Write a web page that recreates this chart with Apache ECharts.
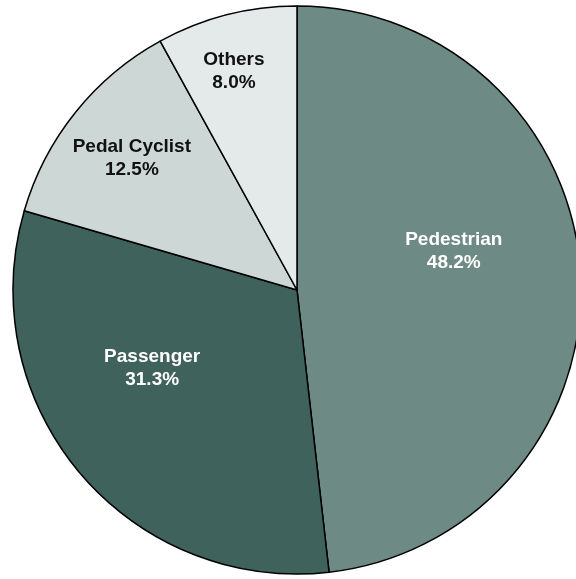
<!DOCTYPE html>
<html>
<head>
<meta charset="utf-8">
<script src="https://cdn.jsdelivr.net/npm/echarts@6/dist/echarts.min.js"></script>
<style>
  html, body { margin: 0; padding: 0; background: #fff; }
  #chart { width: 576px; height: 579px; }
</style>
</head>
<body>
<div id="chart"></div>
<script>
var categories = ['Pedestrian', 'Passenger', 'Pedal Cyclist', 'Others'];
var shares = [48.2, 31.3, 12.5, 8.0];

// look of each slice
var sliceColors = ['#6e8a84', '#3f625d', '#cdd7d5', '#e4e9e9'];
var textColors = ['#ffffff', '#ffffff', '#111111', '#111111'];
var labelOffsets = [[12, -31], [-34, -15], [-52, -41], [-27, -78]];

var seriesData = [], i;
for (i = 0; i < categories.length; i++) {
    seriesData.push({
        name: categories[i],
        value: shares[i],
        itemStyle: { color: sliceColors[i] },
        label: { color: textColors[i], offset: labelOffsets[i] }
    });
}

var myChart = echarts.init(document.getElementById('chart'));
myChart.setOption({
    animation: false,
    series: [{
        type: 'pie',
        center: [297, 290],
        radius: 284,
        startAngle: 90,
        clockwise: true,
        avoidLabelOverlap: false,
        itemStyle: { borderColor: '#000', borderWidth: 1.5 },
        label: {
            show: true,
            position: 'inside',
            fontFamily: '"Liberation Sans", Arial, sans-serif',
            fontWeight: 'bold',
            fontSize: 19,
            lineHeight: 23,
            align: 'center',
            formatter: function (p) {
                return p.name + '\n' + p.value.toFixed(1) + '%';
            }
        },
        labelLine: { show: false },
        emphasis: { disabled: true },
        data: seriesData
    }]
});
</script>
</body>
</html>
